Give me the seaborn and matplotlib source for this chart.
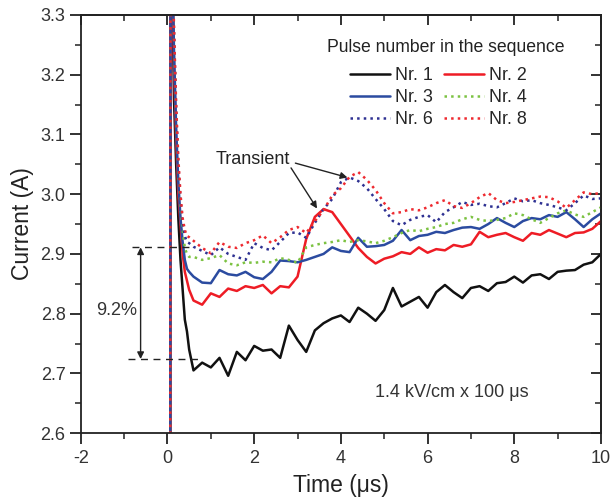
import numpy as np
import pandas as pd
import matplotlib
matplotlib.use("Agg")
import matplotlib.pyplot as plt
import seaborn as sns
from matplotlib.ticker import MultipleLocator

# ---------------- data ----------------
t_prefix = [-2.0, 0.05, 0.07, 0.11, 0.15, 0.20, 0.25, 0.30, 0.35, 0.40, 0.45, 0.50]
t_grid = [0.6, 0.8, 1.0, 1.2, 1.4, 1.6, 1.8, 2.0, 2.2, 2.4, 2.6, 2.8, 3.0, 3.2, 3.4,
          3.6, 3.8, 4.0, 4.2, 4.4, 4.6, 4.8, 5.0, 5.2, 5.4, 5.6, 5.8, 6.0, 6.2, 6.4,
          6.6, 6.8, 7.0, 7.2, 7.4, 7.6, 7.8, 8.0, 8.2, 8.4, 8.6, 8.8, 9.0, 9.2, 9.4,
          9.6, 9.8, 10.0]
time_us = t_prefix + t_grid

nr1 = [0, 0, 3.5, 3.36, 3.16, 3.05, 2.96, 2.89, 2.84, 2.79, 2.77, 2.74,
       2.705, 2.718, 2.710, 2.726, 2.696, 2.736, 2.722, 2.746, 2.738, 2.740, 2.726, 2.780,
       2.756, 2.736, 2.772, 2.784, 2.792, 2.797, 2.786, 2.810, 2.800, 2.788, 2.806, 2.843,
       2.812, 2.820, 2.828, 2.810, 2.836, 2.848, 2.836, 2.826, 2.843, 2.846, 2.838, 2.851,
       2.853, 2.862, 2.852, 2.864, 2.866, 2.858, 2.870, 2.872, 2.873, 2.882, 2.886, 2.900]
nr2 = [0, 0, 3.5, 3.40, 3.22, 3.09, 3.00, 2.95, 2.90, 2.87, 2.855, 2.84,
       2.822, 2.815, 2.834, 2.828, 2.842, 2.838, 2.846, 2.843, 2.848, 2.834, 2.846, 2.844,
       2.862, 2.925, 2.962, 2.975, 2.970, 2.950, 2.930, 2.910, 2.895, 2.884, 2.892, 2.896,
       2.903, 2.900, 2.911, 2.902, 2.908, 2.906, 2.915, 2.912, 2.916, 2.937, 2.928, 2.932,
       2.935, 2.928, 2.922, 2.935, 2.932, 2.940, 2.934, 2.928, 2.935, 2.936, 2.942, 2.955]
nr3 = [0, 0, 3.5, 3.40, 3.24, 3.11, 3.02, 2.96, 2.92, 2.89, 2.875, 2.87,
       2.862, 2.852, 2.851, 2.873, 2.866, 2.864, 2.870, 2.861, 2.858, 2.870, 2.889, 2.888,
       2.886, 2.890, 2.895, 2.900, 2.911, 2.905, 2.903, 2.927, 2.912, 2.913, 2.915, 2.922,
       2.940, 2.923, 2.930, 2.932, 2.937, 2.935, 2.940, 2.944, 2.945, 2.942, 2.950, 2.960,
       2.952, 2.945, 2.955, 2.960, 2.958, 2.965, 2.962, 2.970, 2.958, 2.945, 2.958, 2.968]
nr4 = [0, 0, 3.5, 3.42, 3.26, 3.13, 3.04, 2.98, 2.94, 2.91, 2.90, 2.895,
       2.895, 2.890, 2.893, 2.898, 2.884, 2.881, 2.886, 2.885, 2.887, 2.886, 2.893, 2.890,
       2.885, 2.911, 2.915, 2.918, 2.920, 2.923, 2.920, 2.923, 2.921, 2.918, 2.922, 2.928,
       2.935, 2.940, 2.938, 2.942, 2.945, 2.950, 2.952, 2.958, 2.962, 2.957, 2.955, 2.957,
       2.960, 2.968, 2.965, 2.958, 2.952, 2.960, 2.968, 2.973, 2.966, 2.962, 2.970, 2.978]
nr6 = [0, 0, 3.5, 3.42, 3.27, 3.14, 3.05, 2.99, 2.95, 2.93, 2.92, 2.918,
       2.912, 2.905, 2.898, 2.911, 2.900, 2.895, 2.890, 2.918, 2.910, 2.906, 2.920, 2.935,
       2.936, 2.927, 2.952, 2.975, 2.992, 3.020, 3.028, 3.022, 3.010, 2.992, 2.975, 2.955,
       2.948, 2.957, 2.962, 2.965, 2.953, 2.970, 2.978, 2.987, 2.982, 2.984, 2.980, 2.978,
       2.985, 2.993, 2.988, 2.990, 2.985, 2.982, 2.978, 2.973, 2.985, 2.998, 2.992, 2.993]
nr8 = [0, 0, 3.5, 3.43, 3.28, 3.15, 3.06, 3.00, 2.96, 2.94, 2.93, 2.928,
       2.922, 2.910, 2.901, 2.920, 2.912, 2.910, 2.918, 2.923, 2.931, 2.918, 2.928, 2.940,
       2.945, 2.935, 2.955, 2.973, 2.998, 3.010, 3.029, 3.037, 3.024, 3.007, 2.985, 2.968,
       2.970, 2.975, 2.973, 2.978, 2.985, 2.990, 2.980, 2.977, 2.985, 2.995, 3.002, 2.990,
       2.985, 2.987, 2.990, 2.993, 2.996, 2.995, 2.988, 2.977, 2.990, 3.003, 3.000, 3.002]

series_labels = ["Nr. 1", "Nr. 2", "Nr. 3", "Nr. 4", "Nr. 6", "Nr. 8"]
series_values = [nr1, nr2, nr3, nr4, nr6, nr8]
series_colors = ["#111111", "#ee1c25", "#2b4ba0", "#7cc242", "#2e3192", "#ee2a30"]
series_styles = ["-", "-", "-", ":", ":", ":"]

x_ticks = [-2, 0, 2, 4, 6, 8, 10]
y_ticks = [2.6, 2.7, 2.8, 2.9, 3.0, 3.1, 3.2, 3.3]

# ---------------- plot ----------------
sns.set_theme(style="ticks")
plt.rcParams["font.family"] = ["Liberation Sans", "DejaVu Sans"]
plt.rcParams["axes.unicode_minus"] = False

fig = plt.figure(figsize=(6.12, 4.99), dpi=100)
ax = fig.add_axes([0.132, 0.132, 0.85, 0.838])

handles = {}
for lab, vals, col, ls in zip(series_labels, series_values, series_colors, series_styles):
    df = pd.DataFrame({"t": time_us, "I": vals})
    sns.lineplot(data=df, x="t", y="I", ax=ax, color=col, linestyle=ls,
                 linewidth=1.8, label=lab, sort=False, legend=False)
    handles[lab] = ax.lines[-1]

ax.set_xlim(-2, 10)
ax.set_ylim(2.6, 3.3)
ax.set_xticks(x_ticks)
ax.set_xticklabels([str(v) for v in x_ticks])
ax.set_yticks(y_ticks)
ax.set_yticklabels([f"{v:.1f}" for v in y_ticks])
ax.xaxis.set_minor_locator(MultipleLocator(1))
ax.yaxis.set_minor_locator(MultipleLocator(0.05))
ax.tick_params(which="both", direction="out", top=False, right=False,
               colors="#222222", labelcolor="#333333")
ax.tick_params(which="major", length=8, width=1.3, labelsize=13)
ax.tick_params(which="minor", length=4.5, width=1.1)
ax.tick_params(axis="x", which="major", pad=4)
ax.tick_params(axis="y", which="major", pad=3)
for s in ax.spines.values():
    s.set_linewidth(1.3)
    s.set_color("#222222")

# inward ticks on top and right
secx = ax.secondary_xaxis("top")
secx.set_xticks(x_ticks)
secx.xaxis.set_minor_locator(MultipleLocator(1))
secx.tick_params(which="both", direction="in", labeltop=False, colors="#222222")
secx.tick_params(which="major", length=7, width=1.3)
secx.tick_params(which="minor", length=4, width=1.1)
secx.spines["top"].set_linewidth(1.3)
secy = ax.secondary_yaxis("right")
secy.set_yticks(y_ticks)
secy.yaxis.set_minor_locator(MultipleLocator(0.05))
secy.tick_params(which="both", direction="in", labelright=False, colors="#222222")
secy.tick_params(which="major", length=7, width=1.3)
secy.tick_params(which="minor", length=4, width=1.1)
secy.spines["right"].set_linewidth(1.3)

ax.set_xlabel("Time (μs)", fontsize=16.5, color="#222222", labelpad=5)
ax.set_ylabel("Current (A)", fontsize=16.5, color="#222222", labelpad=5)

# legend (title drawn separately so the gap matches)
order = ["Nr. 1", "Nr. 3", "Nr. 6", "Nr. 2", "Nr. 4", "Nr. 8"]
leg = ax.legend([handles[k] for k in order], order, ncol=2, frameon=False,
                fontsize=12.9, loc="upper left",
                bbox_to_anchor=(350 / 612, 1 - 67.5 / 499),
                bbox_transform=fig.transFigure, borderpad=0, borderaxespad=0,
                handlelength=2.23, handletextpad=0.28, columnspacing=0.6,
                labelspacing=0.27)
fig.text(446 / 612, 1 - 47 / 499, "Pulse number in the sequence", fontsize=12.7,
         color="#222222", ha="center", va="center")

# annotations
ax.plot([-0.82, 0.55], [2.911, 2.911], ls=(0, (5, 4)), color="#222222", lw=1.0)
ax.plot([-0.9, 0.7], [2.724, 2.724], ls=(0, (5, 4)), color="#222222", lw=1.0)
ax.annotate("", xy=(-0.62, 2.911), xytext=(-0.62, 2.724),
            arrowprops=dict(arrowstyle="<|-|>", color="#222222", lw=1.0,
                            mutation_scale=10, shrinkA=0, shrinkB=0))
ax.text(-1.17, 2.805, "9.2%", fontsize=13, color="#333333", ha="center", va="center")

ax.text(1.12, 3.058, "Transient", fontsize=13, color="#222222", ha="left", va="center")
ax.annotate("", xy=(4.15, 3.028), xytext=(2.95, 3.052),
            arrowprops=dict(arrowstyle="-|>", color="#222222", lw=1.0,
                            mutation_scale=10, shrinkA=0, shrinkB=0))
ax.annotate("", xy=(3.45, 2.976), xytext=(2.85, 3.044),
            arrowprops=dict(arrowstyle="-|>", color="#222222", lw=1.0,
                            mutation_scale=10, shrinkA=0, shrinkB=0))

ax.text(6.55, 2.668, "1.4 kV/cm x 100 μs", fontsize=13, color="#333333",
        ha="center", va="center")

fig.savefig("out.png", dpi=100)
